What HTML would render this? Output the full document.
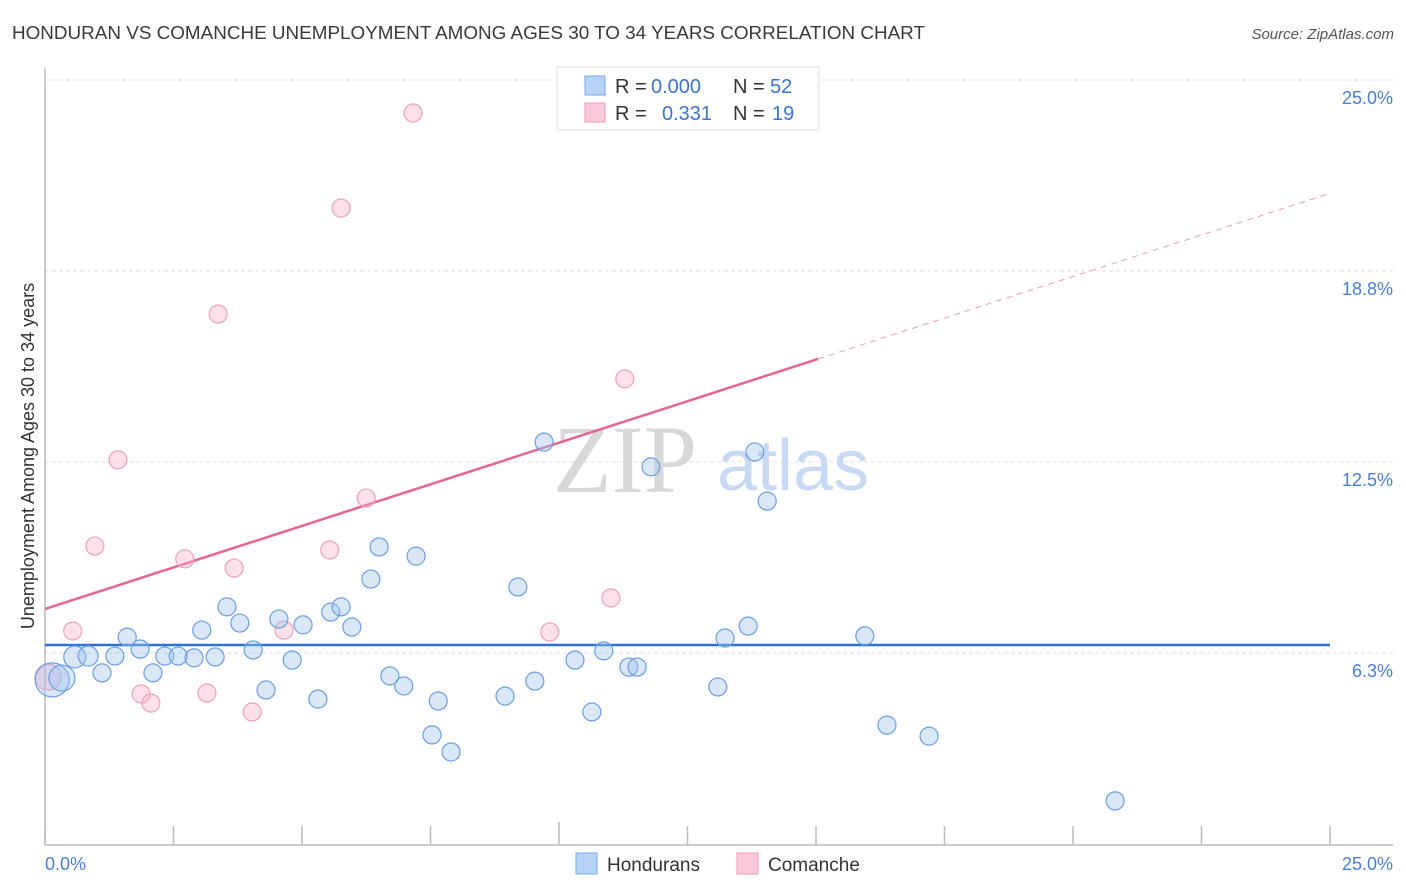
<!DOCTYPE html>
<html><head><meta charset="utf-8"><style>
body{margin:0;background:#fff;font-family:"Liberation Sans",sans-serif}
svg{display:block}
</style></head><body>
<svg id="chart" width="1406" height="892" viewBox="0 0 1406 892" xmlns="http://www.w3.org/2000/svg">
<text x="12" y="39" font-size="18" fill="#3a3a3a" textLength="913" lengthAdjust="spacingAndGlyphs">HONDURAN VS COMANCHE UNEMPLOYMENT AMONG AGES 30 TO 34 YEARS CORRELATION CHART</text>
<text x="1394" y="39" font-size="15" fill="#555" font-style="italic" text-anchor="end">Source: ZipAtlas.com</text>
<g>
<text x="553" y="492" font-family="Liberation Serif,serif" font-size="96" fill="#d8d8d8">ZIP</text>
<text x="717" y="490" font-size="72" fill="#c8daf3">atlas</text>
</g>
<g id="grid"></g>
<g id="axes"></g>
<g id="lines"></g>
<g id="pts"></g>
<text transform="translate(34,456) rotate(-90)" font-size="18" fill="#333" text-anchor="middle">Unemployment Among Ages 30 to 34 years</text>
<text x="45" y="870" font-size="18" fill="#4a7fd0">0.0%</text>
<text x="1393" y="870" font-size="18" fill="#4a7fd0" text-anchor="end">25.0%</text>
<g>
<rect x="557" y="67" width="262" height="63" fill="#fff" stroke="#ddd"/>
<rect x="585" y="76" width="20" height="19" fill="#b7d3f5" stroke="#7aa8e6"/>
<rect x="585" y="103" width="20" height="19" fill="#fbc9d7" stroke="#f09ab4"/>
<text x="615" y="93" font-size="20" fill="#333">R =</text>
<text x="651" y="93" font-size="20" fill="#3c74cc">0.000</text>
<text x="733" y="93" font-size="20" fill="#333">N =</text>
<text x="770" y="93" font-size="20" fill="#3c74cc">52</text>
<text x="615" y="120" font-size="20" fill="#333">R =</text>
<text x="662" y="120" font-size="20" fill="#3c74cc">0.331</text>
<text x="733" y="120" font-size="20" fill="#333">N =</text>
<text x="772" y="120" font-size="20" fill="#3c74cc">19</text>
</g>
<g>
<rect x="576" y="853" width="21" height="21" fill="#b7d3f5" stroke="#7aa8e6"/>
<text x="607" y="871" font-size="19" fill="#333">Hondurans</text>
<rect x="737" y="853" width="21" height="21" fill="#fbc9d7" stroke="#f09ab4"/>
<text x="768" y="871" font-size="19" fill="#333">Comanche</text>
</g>
</svg>
<script>
const yTicks=[6.25,12.5,18.75,25];
const yTickLabels=["6.3%","12.5%","18.8%","25.0%"];
const blueX=[0.14,0.33,0.58,0.84,1.11,1.36,1.60,1.85,2.10,2.33,2.59,2.90,3.05,3.31,3.54,3.79,4.05,4.30,4.55,4.81,5.02,5.31,5.56,5.76,5.97,6.34,6.50,6.71,6.98,7.22,7.53,7.65,7.90,8.95,9.20,9.53,9.71,10.31,10.64,10.87,11.36,11.52,11.79,13.09,13.23,13.68,13.81,14.05,15.95,16.38,17.20,20.82];
const blueY=[5.37,5.43,6.12,6.15,5.60,6.15,6.77,6.38,5.60,6.15,6.15,6.09,7.00,6.12,7.76,7.23,6.35,5.04,7.36,6.02,7.17,4.74,7.59,7.76,7.10,8.67,9.72,5.50,5.17,9.42,3.57,4.68,3.01,4.84,8.41,5.33,13.15,6.02,4.32,6.32,5.79,5.79,12.34,5.14,6.74,7.13,12.83,11.22,6.81,3.89,3.53,1.41];
const blueR=[17,13,11,10,9,9,9,9,9,9,9,9,9,9,9,9,9,9,9,9,9,9,9,9,9,9,9,9,9,9,9,9,9,9,9,9,9,9,9,9,9,9,9,9,9,9,9,9,9,9,9,9];
const pinkX=[0.06,0.54,0.97,1.42,1.87,2.06,2.72,3.15,3.37,3.68,4.03,4.65,5.54,5.76,6.25,7.16,9.82,11.01,11.28];
const pinkY=[5.46,6.97,9.75,12.57,4.91,4.61,9.33,4.94,17.34,9.03,4.32,7.00,9.62,20.81,11.32,23.92,6.94,8.05,15.22];
const pinkR=[13,9,9,9,9,9,9,9,9,9,9,9,9,9,9,9,9,9,9];
const blueTrend=[6.51,6.51];
const pinkTrend=[7.69,0.544];
const pinkSolidEnd=15.04;
const X0=45,X1=1330,Y0=844,Y1=80;
const sx=v=>X0+v/25*(X1-X0);
const sy=v=>Y0-v/25*(Y0-Y1);
const NS="http://www.w3.org/2000/svg";
function mk(tag,parent,attrs){const e=document.createElementNS(NS,tag);for(const k in attrs)e.setAttribute(k,attrs[k]);parent.appendChild(e);return e;}
const grid=document.getElementById('grid');
yTicks.forEach((t,i)=>{
  const l=mk('line',grid,{x1:X0,x2:1393,y1:sy(t),y2:sy(t),stroke:'#dcdcdc','stroke-dasharray':'4,3'});
  
  
  const tx=mk('text',grid,{x:1393,y:sy(t)+24,'font-size':18,fill:'#4a7fd0','text-anchor':'end'});
  tx.textContent=yTickLabels[i];
  
  
});
const axes=document.getElementById('axes');
mk('line',axes,{x1:X0,x2:X0,y1:68,y2:845,stroke:'#bbb','stroke-width':1.5});
mk('line',axes,{x1:X0,x2:1393,y1:845,y2:845,stroke:'#bbb','stroke-width':1.5});
for(let i=0;i<=10;i++){
  const x=sx(i*2.5);
  const tk=mk('line',axes,{x1:x,x2:x,y1:i==4?822:826,y2:845,stroke:'#bbb','stroke-width':1.5});
  
  
}
const lines=document.getElementById('lines');
const bl=mk('line',lines,{x1:sx(0),x2:sx(25),y1:sy(blueTrend[0]),y2:sy(blueTrend[1]),stroke:'#2f72d4','stroke-width':2.5});


const pf=x=>pinkTrend[0]+pinkTrend[1]*x;
const pl=mk('line',lines,{x1:sx(0),x2:sx(pinkSolidEnd),y1:sy(pf(0)),y2:sy(pf(pinkSolidEnd)),stroke:'#e5658e','stroke-width':2.5});


const pd=mk('line',lines,{x1:sx(pinkSolidEnd),x2:sx(25),y1:sy(pf(pinkSolidEnd)),y2:sy(pf(25)),stroke:'#e5a0b6','stroke-width':1,'stroke-dasharray':'6,5'});


const pts=document.getElementById('pts');
pinkX.forEach((x,i)=>{
  const c=mk('circle',pts,{cx:sx(x),cy:sy(pinkY[i]),r:pinkR[i],fill:'rgba(248,180,200,0.4)',stroke:'#f0a0b8','stroke-width':1.2});
  
  
});
blueX.forEach((x,i)=>{
  const c=mk('circle',pts,{cx:sx(x),cy:sy(blueY[i]),r:blueR[i],fill:'rgba(160,196,240,0.4)',stroke:'#6b9ee3','stroke-width':1.2});
  
  
});
</script>
</body></html>
